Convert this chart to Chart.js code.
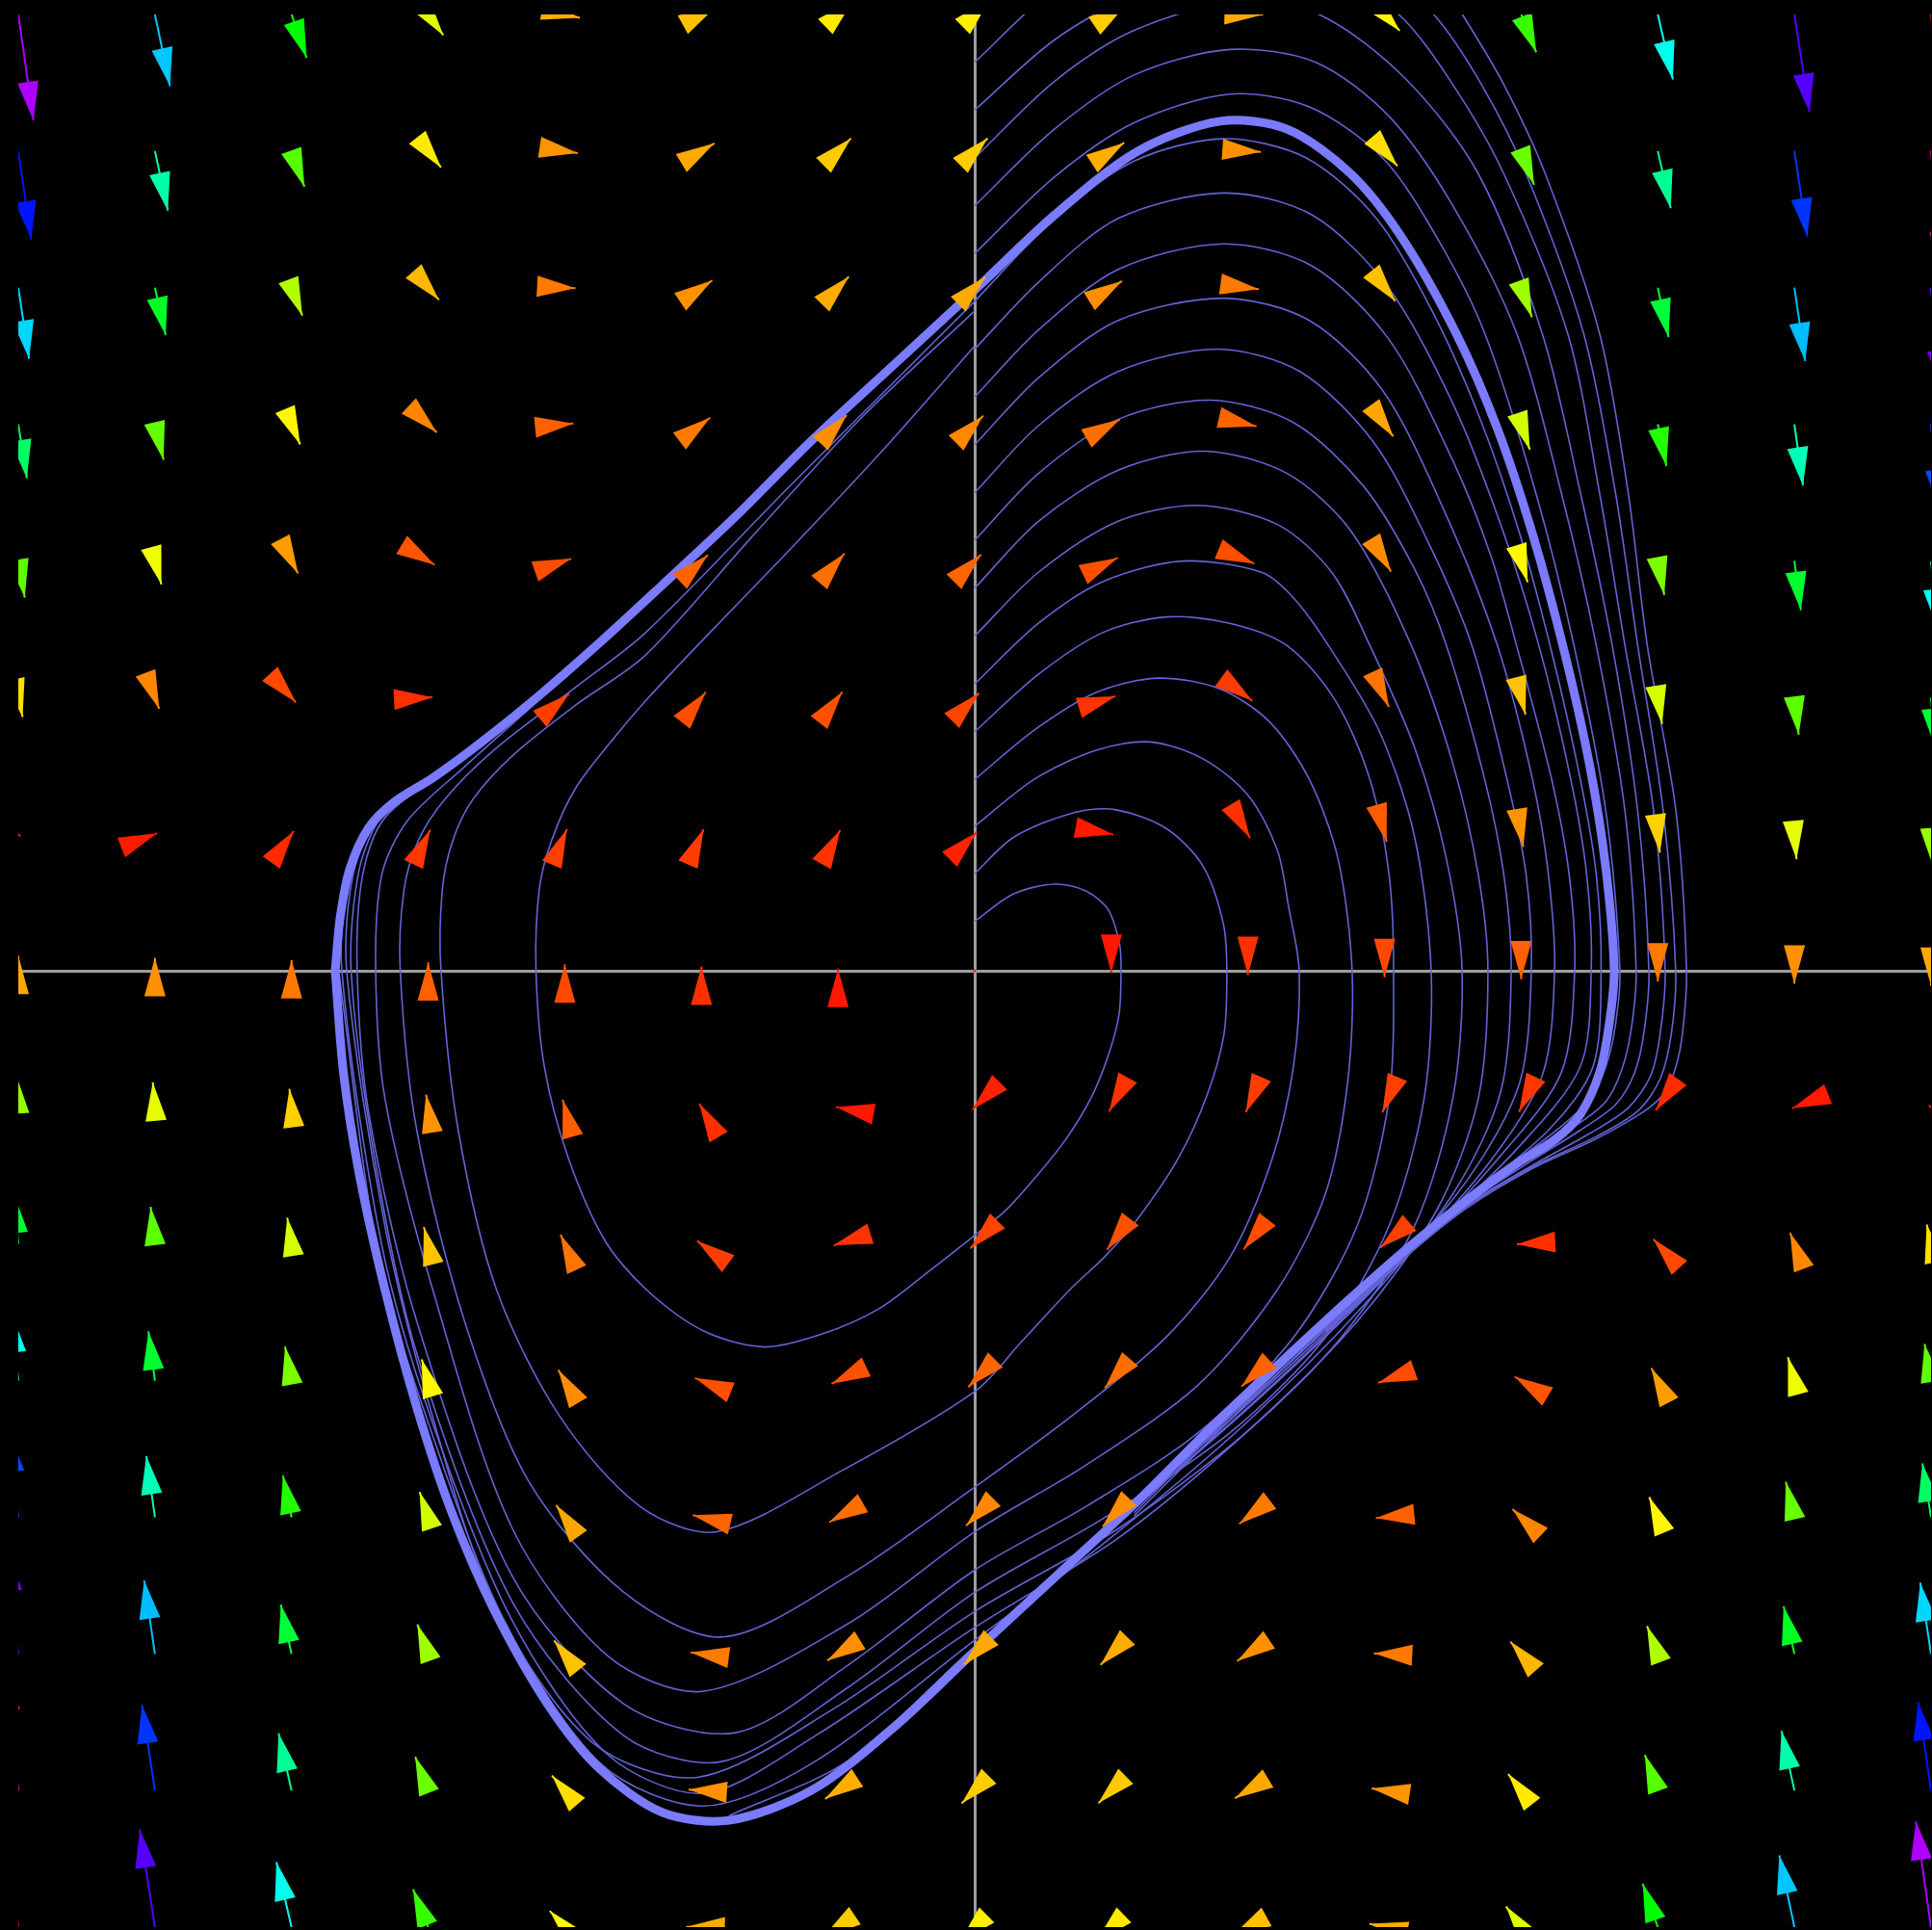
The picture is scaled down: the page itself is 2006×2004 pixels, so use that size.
<!DOCTYPE html>
<html><head><meta charset="utf-8">
<script src="https://cdn.jsdelivr.net/npm/chart.js@4.4.1/dist/chart.umd.min.js"></script>
<style>html,body{margin:0;padding:0;background:#000;overflow:hidden}#wrap{width:2006px;height:2004px;position:relative;background:#000}</style>
</head><body><div id="wrap"><canvas id="c"></canvas></div>
<script>
// Arrow grid (data coordinates)
const gridX = [-3, -2.5714, -2.1429, -1.7143, -1.2857, -0.8571, -0.4286, 0, 0.4286, 0.8571, 1.2857, 1.7143, 2.1429, 2.5714, 3];
const gridY = [3, 2.5714, 2.1429, 1.7143, 1.2857, 0.8571, 0.4286, 0, -0.4286, -0.8571, -1.2857, -1.7143, -2.1429, -2.5714, -3];
// horizontal component per row, vertical component per cell
const fieldU = [3, 2.5714, 2.1429, 1.7143, 1.2857, 0.8571, 0.4286, 0, -0.4286, -0.8571, -1.2857, -1.7143, -2.1429, -2.5714, -3];
const fieldV = [
 [-21.00,-14.27,-8.63,-4.10,-0.67,1.65,2.88,3.00,2.02,-0.06,-3.24,-7.53,-12.92,-19.41,-27.00],
 [-17.57,-11.86,-7.09,-3.27,-0.39,1.54,2.53,2.57,1.67,-0.18,-2.97,-6.70,-11.38,-17.00,-23.57],
 [-14.14,-9.46,-5.55,-2.44,-0.11,1.43,2.18,2.14,1.32,-0.29,-2.69,-5.87,-9.84,-14.60,-20.14],
 [-10.71,-7.05,-4.01,-1.61,0.17,1.31,1.83,1.71,0.97,-0.40,-2.41,-5.04,-8.30,-12.19,-16.71],
 [-7.29,-4.65,-2.48,-0.78,0.45,1.20,1.48,1.29,0.62,-0.52,-2.13,-4.21,-6.76,-9.79,-13.29],
 [-3.86,-2.24,-0.94,0.05,0.73,1.08,1.13,0.86,0.27,-0.63,-1.85,-3.38,-5.22,-7.38,-9.86],
 [-0.43,0.17,0.60,0.88,1.01,0.97,0.78,0.43,-0.08,-0.74,-1.57,-2.55,-3.68,-4.98,-6.43],
 [3.00,2.57,2.14,1.71,1.29,0.86,0.43,0.00,-0.43,-0.86,-1.29,-1.71,-2.14,-2.57,-3.00],
 [6.43,4.98,3.68,2.55,1.57,0.74,0.08,-0.43,-0.78,-0.97,-1.01,-0.88,-0.60,-0.17,0.43],
 [9.86,7.38,5.22,3.38,1.85,0.63,-0.27,-0.86,-1.13,-1.08,-0.73,-0.05,0.94,2.24,3.86],
 [13.29,9.79,6.76,4.21,2.13,0.52,-0.62,-1.29,-1.48,-1.20,-0.45,0.78,2.48,4.65,7.29],
 [16.71,12.19,8.30,5.04,2.41,0.40,-0.97,-1.71,-1.83,-1.31,-0.17,1.61,4.01,7.05,10.71],
 [20.14,14.60,9.84,5.87,2.69,0.29,-1.32,-2.14,-2.18,-1.43,0.11,2.44,5.55,9.46,14.14],
 [23.57,17.00,11.38,6.70,2.97,0.18,-1.67,-2.57,-2.53,-1.54,0.39,3.27,7.09,11.86,17.57],
 [27.00,19.41,12.92,7.53,3.24,0.06,-2.02,-3.00,-2.88,-1.65,0.67,4.10,8.63,14.27,21.00]
];

// Limit cycle band
const limitCycle = [[-2.006,0],[-1.99,0.17],[-1.96,0.32],[-1.90,0.45],[-1.82,0.53],[-1.70,0.605],[-1.55,0.715],[-1.37,0.86],[-1.17,1.035],[-0.98,1.21],[-0.75,1.425],[-0.52,1.655],[-0.26,1.895],[0,2.135],[0.25,2.37],[0.51,2.57],[0.77,2.665],[0.98,2.64],[1.18,2.50],[1.34,2.30],[1.51,2.00],[1.64,1.70],[1.75,1.37],[1.85,1.00],[1.93,0.64],[1.98,0.32],[2.006,0],[1.99,-0.17],[1.96,-0.32],[1.90,-0.45],[1.82,-0.53],[1.70,-0.605],[1.55,-0.715],[1.37,-0.86],[1.17,-1.035],[0.98,-1.21],[0.75,-1.425],[0.52,-1.655],[0.26,-1.895],[0,-2.135],[-0.25,-2.37],[-0.51,-2.57],[-0.77,-2.665],[-0.98,-2.64],[-1.18,-2.50],[-1.34,-2.30],[-1.51,-2.00],[-1.64,-1.70],[-1.75,-1.37],[-1.85,-1.00],[-1.93,-0.64],[-1.98,-0.32],[-2.006,0]];

// Trajectories starting on the vertical axis
const traj01 = [[0,0.155],[0.12,0.24],[0.25,0.272],[0.35,0.25],[0.42,0.19],[0.455,0.08],[0.459,0],[0.453,-0.136],[0.42,-0.263],[0.368,-0.393],[0.29,-0.523],[0.2,-0.637],[0.097,-0.752],[0,-0.83],[-0.14,-0.94],[-0.3,-1.06],[-0.48,-1.14],[-0.66,-1.18],[-0.85,-1.13],[-1.03,-1.0],[-1.16,-0.846],[-1.275,-0.586],[-1.35,-0.3],[-1.376,0],[-1.366,0.254],[-1.327,0.409],[-1.251,0.574],[-1.121,0.743],[-1.033,0.846],[-0.87,1.02],[-0.6,1.3],[-0.3,1.62],[0,1.96]];
const traj02 = [[0,0.305],[0.124,0.42],[0.317,0.498],[0.444,0.505],[0.60,0.447],[0.716,0.329],[0.78,0.148],[0.791,0],[0.782,-0.2],[0.728,-0.393],[0.64,-0.586],[0.511,-0.779],[0.408,-0.897],[0.302,-0.997],[0.15,-1.16],[0,-1.32],[-0.42,-1.57],[-0.81,-1.76],[-1.05,-1.68],[-1.3,-1.4],[-1.5,-1.0],[-1.62,-0.5],[-1.674,0],[-1.67,0.254],[-1.637,0.409],[-1.574,0.538],[-1.444,0.68],[-1.251,0.834],[-1.033,0.99],[-0.7,1.36],[-0.35,1.74],[0,2.07]];
const traj03 = [[0,0.453],[0.187,0.601],[0.381,0.692],[0.55,0.718],[0.716,0.665],[0.858,0.55],[0.949,0.38],[0.985,0.2],[1.018,0],[1.0,-0.3],[0.93,-0.6],[0.8,-0.9],[0.6,-1.15],[0.3,-1.4],[0,-1.62],[-0.4,-1.9],[-0.79,-2.09],[-1.1,-1.95],[-1.4,-1.6],[-1.6,-1.1],[-1.75,-0.5],[-1.802,0],[-1.79,0.254],[-1.745,0.409],[-1.662,0.538],[-1.508,0.692],[-1.251,0.89],[-1.033,1.06],[-0.6,1.5],[-0.3,1.8],[0,2.1]];
const traj04 = [[0,0.60],[0.187,0.755],[0.381,0.873],[0.574,0.918],[0.767,0.885],[0.924,0.782],[1.05,0.6],[1.14,0.35],[1.184,0],[1.17,-0.35],[1.1,-0.7],[0.95,-1.0],[0.7,-1.3],[0.35,-1.55],[0,-1.76],[-0.4,-2.05],[-0.85,-2.26],[-1.15,-2.15],[-1.45,-1.75],[-1.7,-1.0],[-1.85,-0.4],[-1.879,0],[-1.86,0.3],[-1.78,0.47],[-1.6,0.64],[-1.2,1.0],[-0.6,1.57],[0,2.12]];
const traj05 = [[0,0.75],[0.2,0.93],[0.4,1.06],[0.6,1.11],[0.8,1.09],[0.98,1.02],[1.13,0.85],[1.24,0.6],[1.30,0.3],[1.314,0],[1.3,-0.4],[1.2,-0.8],[1.0,-1.15],[0.7,-1.45],[0.35,-1.68],[0,-1.88],[-0.4,-2.18],[-0.75,-2.39],[-1.1,-2.3],[-1.45,-1.9],[-1.75,-1.1],[-1.9,-0.45],[-1.937,0],[-1.92,0.3],[-1.85,0.48],[-1.6,0.67],[-1.2,1.0],[-0.6,1.58],[0,2.125]];
const traj06 = [[0,0.9],[0.2,1.09],[0.4,1.22],[0.65,1.285],[0.9,1.25],[1.0,1.17],[1.11,1.02],[1.27,0.75],[1.38,0.42],[1.432,0],[1.41,-0.4],[1.3,-0.8],[1.1,-1.15],[0.8,-1.45],[0.4,-1.72],[0,-1.95],[-0.4,-2.25],[-0.79,-2.48],[-1.1,-2.4],[-1.45,-1.98],[-1.75,-1.2],[-1.88,-0.6],[-1.956,0],[-1.93,0.32],[-1.85,0.5],[-1.7,0.6]];
const traj07 = [[0,1.05],[0.2,1.25],[0.45,1.41],[0.7,1.46],[0.95,1.4],[1.12,1.25],[1.24,1.02],[1.38,0.7],[1.48,0.35],[1.529,0],[1.5,-0.4],[1.38,-0.8],[1.15,-1.15],[0.85,-1.45],[0.45,-1.75],[0,-2.01],[-0.45,-2.32],[-0.87,-2.53],[-1.2,-2.42],[-1.5,-2.0],[-1.7,-1.4],[-1.85,-0.8],[-1.97,0],[-1.95,0.3],[-1.87,0.48],[-1.7,0.6]];
const traj08 = [[0,1.2],[0.2,1.41],[0.45,1.57],[0.72,1.63],[0.98,1.56],[1.18,1.38],[1.37,1.02],[1.5,0.65],[1.58,0.3],[1.61,0],[1.58,-0.4],[1.45,-0.75],[1.2,-1.1],[0.85,-1.45],[0.45,-1.78],[0,-2.06],[-0.5,-2.4],[-0.85,-2.58],[-1.15,-2.46],[-1.45,-2.04],[-1.7,-1.42],[-1.86,-0.86],[-1.985,0],[-1.96,0.31],[-1.88,0.47],[-1.7,0.6]];
const traj09 = [[0,1.35],[0.2,1.56],[0.45,1.73],[0.74,1.79],[1.0,1.72],[1.22,1.52],[1.38,1.26],[1.48,1.02],[1.6,0.6],[1.66,0.3],[1.683,0],[1.65,-0.38],[1.5,-0.7],[1.22,-1.05],[0.85,-1.42],[0.4,-1.8],[0,-2.1],[-0.5,-2.48],[-0.85,-2.62],[-1.17,-2.49],[-1.48,-2.03],[-1.72,-1.4],[-1.87,-0.9],[-1.995,0]];
const traj10 = [[0,1.5],[0.2,1.71],[0.45,1.88],[0.76,1.95],[1.02,1.88],[1.25,1.66],[1.42,1.35],[1.56,1.02],[1.67,0.6],[1.73,0.3],[1.746,0],[1.71,-0.35],[1.55,-0.65],[1.25,-1.0],[0.85,-1.38],[0.4,-1.77],[0,-2.12],[-0.4,-2.48],[-0.77,-2.65]];
const traj11 = [[0,1.65],[0.2,1.86],[0.45,2.04],[0.78,2.11],[1.05,2.04],[1.28,1.82],[1.47,1.45],[1.64,1.02],[1.75,0.6],[1.80,0.3],[1.819,0],[1.78,-0.33],[1.6,-0.62],[1.3,-0.95],[0.9,-1.33],[0.45,-1.73],[0,-2.13]];
const traj12 = [[0,1.8],[0.2,2.01],[0.45,2.2],[0.78,2.28],[1.06,2.21],[1.3,1.98],[1.5,1.6],[1.62,1.3],[1.70,1.02],[1.81,0.6],[1.865,0.3],[1.882,0],[1.84,-0.32],[1.65,-0.58],[1.35,-0.9],[0.9,-1.32],[0.45,-1.72],[0,-2.13]];
const traj13 = [[0,1.95],[0.2,2.16],[0.45,2.36],[0.78,2.44],[1.06,2.37],[1.3,2.14],[1.5,1.78],[1.65,1.4],[1.77,1.02],[1.87,0.6],[1.92,0.3],[1.934,0],[1.9,-0.3],[1.7,-0.56],[1.4,-0.85],[0.9,-1.31],[0.5,-1.67]];
const traj14 = [[0,2.1],[0.25,2.36],[0.5,2.54],[0.78,2.61],[1.04,2.55],[1.26,2.36],[1.44,2.06],[1.59,1.72],[1.71,1.37],[1.81,1.0],[1.9,0.6],[1.95,0.3],[1.965,0],[1.94,-0.3],[1.8,-0.5],[1.5,-0.75],[1.2,-1.0]];
const traj15 = [[0,2.25],[0.25,2.49],[0.5,2.66],[0.8,2.75],[1.05,2.71],[1.28,2.55],[1.45,2.3],[1.60,2.0],[1.76,1.5],[1.88,1.02],[1.98,0.5],[2.024,0],[2.01,-0.17],[1.98,-0.3],[1.93,-0.4],[1.85,-0.48],[1.72,-0.58],[1.55,-0.71],[1.35,-0.87],[1.1,-1.11],[0.8,-1.4],[0.5,-1.7]];
const traj16 = [[0,2.4],[0.25,2.64],[0.5,2.81],[0.8,2.89],[1.07,2.85],[1.3,2.68],[1.5,2.4],[1.70,2.0],[1.84,1.5],[1.95,1.02],[2.04,0.5],[2.075,0],[2.06,-0.18],[2.03,-0.31],[1.98,-0.41],[1.88,-0.49],[1.73,-0.59],[1.55,-0.72],[1.35,-0.88],[1.1,-1.12],[0.8,-1.41],[0.5,-1.71]];
const traj17 = [[0,2.55],[0.25,2.79],[0.5,2.95],[0.82,3.04],[1.08,3.0],[1.35,2.8],[1.58,2.5],[1.78,2.0],[1.90,1.5],[2.0,1.02],[2.08,0.5],[2.115,0],[2.10,-0.19],[2.07,-0.32],[2.01,-0.42],[1.90,-0.5],[1.74,-0.6],[1.55,-0.725],[1.35,-0.885],[1.1,-1.12],[0.8,-1.41]];
const traj18 = [[0,2.7],[0.25,2.92],[0.5,3.06],[0.85,3.16],[1.12,3.12],[1.33,3.0],[1.5,2.78],[1.66,2.5],[1.86,2.0],[1.96,1.5],[2.04,1.02],[2.13,0.5],[2.166,0],[2.15,-0.2],[2.12,-0.33],[2.05,-0.43],[1.93,-0.51],[1.75,-0.61],[1.55,-0.73],[1.35,-0.89],[1.1,-1.125]];
const traj19 = [[0,2.85],[0.25,3.08],[0.55,3.24],[0.9,3.32],[1.2,3.22],[1.44,3.0],[1.59,2.78],[1.73,2.5],[1.91,2.0],[2.01,1.5],[2.08,1.02],[2.16,0.5],[2.199,0],[2.185,-0.2],[2.15,-0.34],[2.08,-0.44],[1.95,-0.52],[1.75,-0.615],[1.55,-0.735],[1.35,-0.895],[1.1,-1.13]];
const traj20 = [[0,3.0],[0.35,3.25],[0.8,3.43],[1.2,3.36],[1.4,3.2],[1.53,3.0],[1.66,2.78],[1.79,2.5],[1.96,2.0],[2.05,1.5],[2.11,1.02],[2.20,0.5],[2.233,0],[2.22,-0.2],[2.2,-0.3],[2.166,-0.38],[2.115,-0.43],[2.036,-0.48],[1.934,-0.535],[1.75,-0.62],[1.55,-0.74],[1.35,-0.9],[1.1,-1.135]];

const trajectories = [traj01,traj02,traj03,traj04,traj05,traj06,traj07,traj08,traj09,traj10,traj11,traj12,traj13,traj14,traj15,traj16,traj17,traj18,traj19,traj20];

const toPts = a => a.map(p => ({x:p[0], y:p[1]}));
const datasets = [{
  data: toPts(limitCycle), showLine:true, pointRadius:0, borderColor:'#7b7bff', borderWidth:9, tension:0.3, order:0
}].concat(trajectories.map(t => ({
  data: toPts(t), showLine:true, pointRadius:0, borderColor:'#6363d6', borderWidth:1.6, tension:0.3, order:1
})));

const arrowPlugin = {
  id:'fieldArrows',
  afterDatasetsDraw(chart){
    const {ctx, chartArea:a, scales:{x, y}} = chart;
    ctx.save();
    ctx.beginPath(); ctx.rect(a.left, a.top, a.right-a.left, a.bottom-a.top); ctx.clip();
    let maxMag = 0;
    fieldV.forEach((row,r)=>row.forEach(v=>{maxMag=Math.max(maxMag, Math.hypot(fieldU[r], v));}));
    const step = gridX[1]-gridX[0];
    const headL = 40, headW = 11;
    fieldV.forEach((row,r)=>row.forEach((v,c)=>{
      const u = fieldU[r];
      const mag = Math.hypot(u,v);
      const x0 = x.getPixelForValue(gridX[c]), y0 = y.getPixelForValue(gridY[r]);
      const hue = 360*mag/maxMag;
      const col = 'hsl('+hue.toFixed(1)+',100%,50%)';
      if (mag < 1e-6){ ctx.fillStyle='#ff2000'; ctx.beginPath(); ctx.arc(x0,y0,1.6,0,Math.PI*2); ctx.fill(); return; }
      const x1 = x.getPixelForValue(gridX[c] + u*step/maxMag);
      const y1 = y.getPixelForValue(gridY[r] + v*step/maxMag);
      let dx = x1-x0, dy = y1-y0; const len = Math.hypot(dx,dy); dx/=len; dy/=len;
      ctx.strokeStyle = col; ctx.lineWidth = 2;
      ctx.beginPath(); ctx.moveTo(x0,y0); ctx.lineTo(x1,y1); ctx.stroke();
      const bx = x1 - dx*headL, by = y1 - dy*headL;
      ctx.fillStyle = col;
      ctx.beginPath(); ctx.moveTo(x1,y1); ctx.lineTo(bx - dy*headW, by + dx*headW); ctx.lineTo(bx + dy*headW, by - dx*headW); ctx.closePath(); ctx.fill();
    }));
    ctx.restore();
  }
};

const axisGrid = {color: c => (c.tick && c.tick.value === 0) ? '#9e9e9e' : 'rgba(0,0,0,0)', lineWidth:3, drawTicks:false};
new Chart(document.getElementById('c'), {
  type:'scatter',
  data:{datasets},
  options:{
    responsive:true, maintainAspectRatio:false, animation:false, devicePixelRatio:1,
    layout:{padding:{left:19, top:15, right:1, bottom:3}},
    plugins:{legend:{display:false}, tooltip:{enabled:false}},
    scales:{
      x:{type:'linear', min:-3, max:3, ticks:{display:false, stepSize:3}, grid:axisGrid, border:{display:false}},
      y:{type:'linear', min:-3, max:3, ticks:{display:false, stepSize:3}, grid:axisGrid, border:{display:false}}
    }
  },
  plugins:[arrowPlugin]
});
</script></body></html>
